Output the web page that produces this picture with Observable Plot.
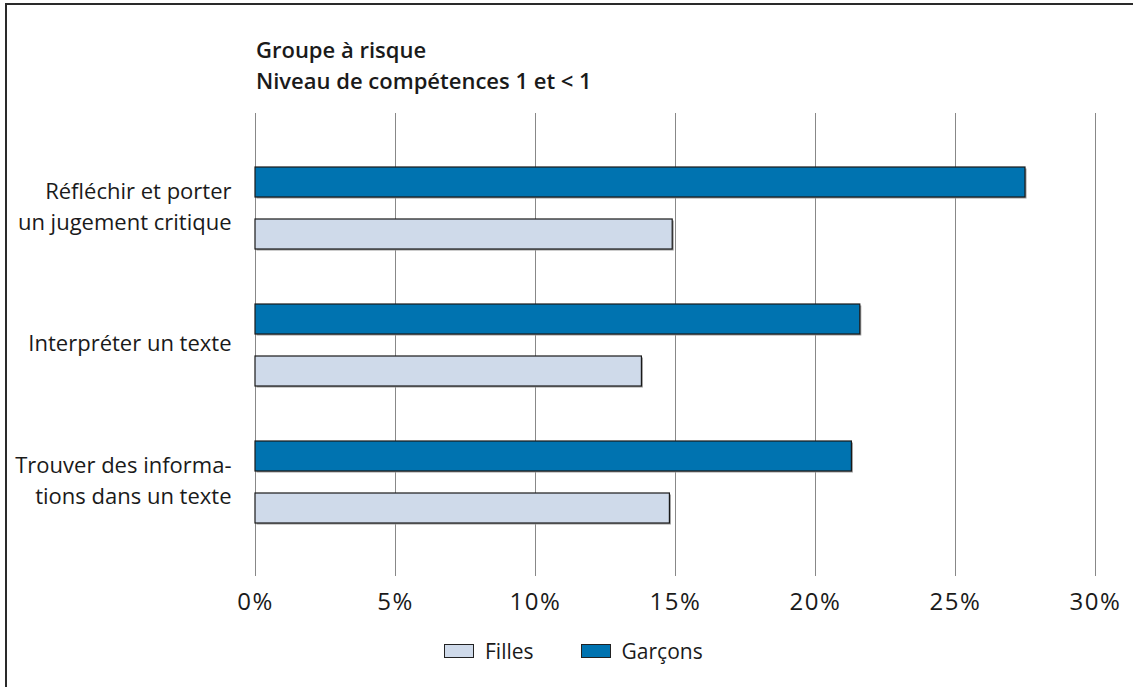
<!DOCTYPE html>
<html>
<head>
<meta charset="utf-8">
<script src="https://cdn.jsdelivr.net/npm/d3@7"></script>
<script src="https://cdn.jsdelivr.net/npm/@observablehq/plot@0.6"></script>
<style>
  html, body { margin: 0; padding: 0; background: #fff; }
  #page { position: relative; width: 1133px; height: 687px; overflow: hidden; font-family: "Open Sans", Lato, sans-serif; color: #1a1a1a; }
  #frame { position: absolute; left: 5px; top: 3px; width: 1160px; height: 720px; border: 2px solid #2a2a2a; box-sizing: border-box; }
  #title { position: absolute; left: 256px; top: 34px; font-size: 22px; font-weight: 600; line-height: 31px; white-space: nowrap; }
  #chart { position: absolute; left: 0; top: 0; }
  #legend { position: absolute; left: 444px; top: 637px; display: flex; align-items: center; font-size: 21px; line-height: 28px; }
  .item { display: flex; align-items: center; }
  .sw { width: 30px; height: 14px; border: 1.5px solid #222; box-sizing: border-box; margin-right: 11px; }
  g[aria-label="x-axis tick label"] text { letter-spacing: 1.5px; }
</style>
</head>
<body>
<div id="page">
  <div id="frame"></div>
  <div id="title"></div>
  <div id="chart"></div>
  <div id="legend"></div>
</div>
<script>
const titleLines = ["Groupe à risque", "Niveau de compétences 1 et < 1"];
const categories = ["Réfléchir et porter un jugement critique", "Interpréter un texte", "Trouver des informations dans un texte"];
const categoryLabels = ["Réfléchir et porter\nun jugement critique", "Interpréter un texte", "Trouver des informa-\ntions dans un texte"];
const filles = [14.9, 13.8, 14.8];
const garcons = [27.5, 21.6, 21.3];
const xTicks = [0, 5, 10, 15, 20, 25, 30];
const seriesNames = ["Filles", "Garçons"];
const seriesColors = ["#cfdaea", "#0073b0"];

const rows = categories.map((c, i) => ({category: c, label: categoryLabels[i], filles: filles[i], garcons: garcons[i]}));

document.getElementById("title").innerHTML = titleLines.map(t => `<div>${t.replace("<", "&lt;")}</div>`).join("");

const barStroke = "#1a1a1a";
const shadow = "#9a9a9a";

const chart = Plot.plot({
  width: 1133,
  height: 630,
  marginTop: 113,
  marginBottom: 54,
  marginLeft: 255,
  marginRight: 38,
  style: {fontFamily: "'Open Sans', Lato, sans-serif", color: "#1a1a1a", background: "transparent"},
  x: {domain: [0, 30]},
  y: {domain: categories, paddingInner: 0.4036, paddingOuter: 0.385, axis: null},
  marks: [
    Plot.gridX(xTicks, {stroke: "#888", strokeOpacity: 1, strokeWidth: 1}),
    Plot.barX(rows, {x: "garcons", y: "category", insetBottom: 52, fill: shadow, dx: 1.5, dy: 1.5}),
    Plot.barX(rows, {x: "filles", y: "category", insetTop: 52, fill: shadow, dx: 1.5, dy: 1.5}),
    Plot.barX(rows, {x: "garcons", y: "category", insetBottom: 52, fill: seriesColors[1], stroke: barStroke, strokeWidth: 1.2}),
    Plot.barX(rows, {x: "filles", y: "category", insetTop: 52, fill: seriesColors[0], stroke: barStroke, strokeWidth: 1.2}),
    Plot.text(rows, {y: "category", text: "label", frameAnchor: "left", textAnchor: "end", dx: -24, dy: -4, lineHeight: 1.4, fontSize: 22, fill: "#1a1a1a"}),
    Plot.axisX(xTicks, {tickSize: 0, tickPadding: 16, tickFormat: d => d + "%", fontSize: 24, fill: "#1a1a1a"})
  ]
});
document.getElementById("chart").appendChild(chart);

const legend = document.getElementById("legend");
seriesNames.forEach((name, i) => {
  const item = document.createElement("div");
  item.className = "item";
  item.style.marginRight = i === 0 ? "47px" : "0";
  const sw = document.createElement("div");
  sw.className = "sw";
  sw.style.background = seriesColors[i];
  const label = document.createElement("span");
  label.textContent = name;
  item.appendChild(sw);
  item.appendChild(label);
  legend.appendChild(item);
});
</script>
</body>
</html>
